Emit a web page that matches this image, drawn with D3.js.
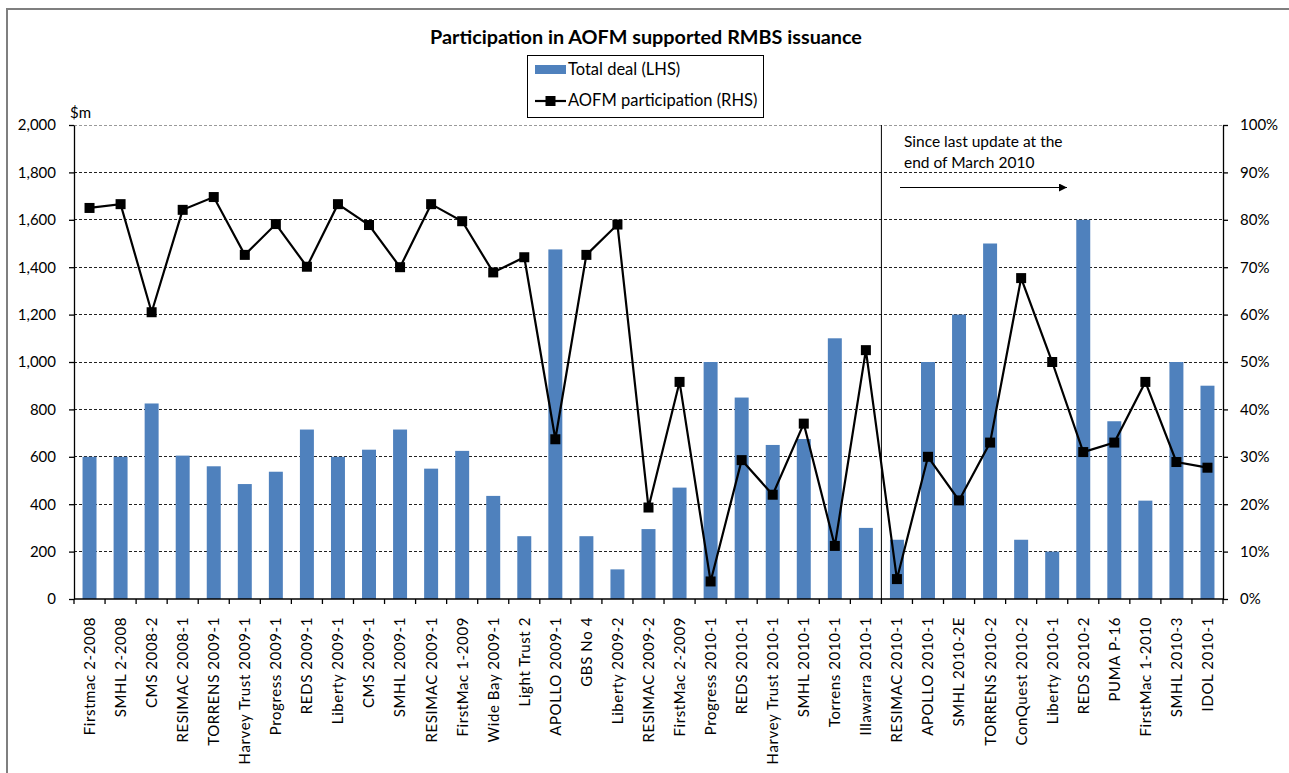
<!DOCTYPE html>
<html>
<head>
<meta charset="utf-8">
<script src="https://cdn.jsdelivr.net/npm/d3@7"></script>
<style>
	body { margin: 0; background: #fff; }
	svg { display: block; font-family: Lato, "Open Sans", sans-serif; }
</style>
</head>
<body>
<svg width="1289" height="773"></svg>
<script>
// deal names along the bottom
const deals = [
	"Firstmac 2-2008", "SMHL 2-2008", "CMS 2008-2", "RESIMAC 2008-1", "TORRENS 2009-1",
	"Harvey Trust 2009-1", "Progress 2009-1", "REDS 2009-1", "Liberty 2009-1", "CMS 2009-1",
	"SMHL 2009-1", "RESIMAC 2009-1", "FirstMac 1-2009", "Wide Bay 2009-1", "Light Trust 2",
	"APOLLO 2009-1", "GBS No 4", "Liberty 2009-2", "RESIMAC 2009-2", "FirstMac 2-2009",
	"Progress 2010-1", "REDS 2010-1", "Harvey Trust 2010-1", "SMHL 2010-1", "Torrens 2010-1",
	"Illawarra 2010-1", "RESIMAC 2010-1", "APOLLO 2010-1", "SMHL 2010-2E", "TORRENS 2010-2",
	"ConQuest 2010-2", "Liberty 2010-1", "REDS 2010-2", "PUMA P-16", "FirstMac 1-2010",
	"SMHL 2010-3", "IDOL 2010-1"
]

// total deal, $m (LHS)
const totalDeal = [
	600, 600, 825, 605, 560, 485, 537, 715, 600, 630,
	715, 550, 625, 435, 265, 1475, 265, 125, 295, 470,
	1000, 850, 650, 675, 1100, 300, 250, 1000, 1200, 1500,
	250, 200, 1600, 750, 415, 1000, 900
]

// AOFM participation, % (RHS)
const aofmShare = [
	82.5, 83.3, 60.5, 82.1, 84.8, 72.6, 79.1, 70.1, 83.3, 78.9,
	70.0, 83.3, 79.7, 68.9, 72.1, 33.7, 72.6, 79.0, 19.3, 45.8,
	3.7, 29.3, 22.0, 37.0, 11.2, 52.5, 4.2, 30.0, 20.8, 33.0,
	67.7, 50.0, 31.0, 33.0, 45.8, 28.9, 27.7
]

const leftTicks = [0, 200, 400, 600, 800, 1000, 1200, 1400, 1600, 1800, 2000]
const rightTicks = [0, 10, 20, 30, 40, 50, 60, 70, 80, 90, 100]

// first deal after the end of March 2010 update
const lastUpdateDeal = "RESIMAC 2010-1"

const svg = d3.select("svg")

const plotLeft = 74, plotRight = 1223, plotTop = 125, plotBottom = 599

const x = d3.scaleBand()
	.domain(deals)
	.range([plotLeft, plotRight])
	.paddingInner(0.55)
	.paddingOuter(0.275)

const yL = d3.scaleLinear().domain([0, 2000]).range([plotBottom, plotTop])
const yR = d3.scaleLinear().domain([0, 100]).range([plotBottom, plotTop])

// outer frame (left + top edges visible)
svg.append("path")
	.attr("d", "M7,773 V9 H1289")
	.attr("fill", "none")
	.attr("stroke", "#7f7f7f")
	.attr("stroke-width", 2)

// title
svg.append("text")
	.attr("x", 646)
	.attr("y", 44)
	.attr("text-anchor", "middle")
	.style("font-weight", "bold")
	.style("font-size", "19.8px")
	.text("Participation in AOFM supported RMBS issuance")

// gridlines
svg.append("g")
	.selectAll("line")
	.data(leftTicks.filter(d => d > 0))
	.enter()
	.append("line")
	.attr("x1", plotLeft)
	.attr("x2", plotRight)
	.attr("y1", d => yL(d))
	.attr("y2", d => yL(d))
	.attr("stroke", d => d === 2000 ? "#9a9a9a" : "#222")
	.attr("stroke-width", 1)
	.attr("stroke-dasharray", "3,2")
	.attr("shape-rendering", "crispEdges")

// bars
svg.append("g")
	.selectAll("rect")
	.data(totalDeal)
	.enter()
	.append("rect")
	.attr("x", (d, i) => x(deals[i]))
	.attr("width", x.bandwidth())
	.attr("y", d => yL(d))
	.attr("height", d => yL(0) - yL(d))
	.attr("fill", "#4f81bd")

// divider for the last update
const divX = x(lastUpdateDeal) - x.step() * x.paddingInner() / 2
svg.append("line")
	.attr("x1", divX).attr("x2", divX)
	.attr("y1", plotTop).attr("y2", plotBottom)
	.attr("stroke", "#000")
	.attr("stroke-width", 1)

// participation line
const cx = (d, i) => x(deals[i]) + x.bandwidth() / 2
const line = d3.line()
	.x(cx)
	.y(d => yR(d))

svg.append("path")
	.datum(aofmShare)
	.attr("d", line)
	.attr("fill", "none")
	.attr("stroke", "#000")
	.attr("stroke-width", 2.2)

svg.append("g")
	.selectAll("rect")
	.data(aofmShare)
	.enter()
	.append("rect")
	.attr("x", (d, i) => cx(d, i) - 5)
	.attr("y", d => yR(d) - 5)
	.attr("width", 10)
	.attr("height", 10)
	.attr("fill", "#000")

// axes
const axisStyle = g => {
	g.select(".domain").attr("stroke", "#000").attr("stroke-width", 1.3)
	g.selectAll(".tick line").attr("stroke", "#000").attr("stroke-width", 1.3)
	g.selectAll("text").style("font-family", "Lato, sans-serif").attr("fill", "#000")
}

svg.append("g")
	.attr("transform", `translate(${plotLeft},0)`)
	.call(d3.axisLeft(yL).tickValues(leftTicks).tickSize(5).tickSizeOuter(0).tickPadding(13)
		.tickFormat(d3.format(",")))
	.call(axisStyle)
	.selectAll("text").style("font-size", "15px")

svg.append("g")
	.attr("transform", `translate(${plotRight},0)`)
	.call(d3.axisRight(yR).tickValues(rightTicks).tickSize(5).tickSizeOuter(0).tickPadding(12)
		.tickFormat(d => d + "%"))
	.call(axisStyle)
	.selectAll("text").style("font-size", "15px")

// x axis with ticks on band edges
const xg = svg.append("g")
	.attr("transform", `translate(0,${plotBottom})`)
xg.append("line")
	.attr("x1", plotLeft).attr("x2", plotRight)
	.attr("stroke", "#000").attr("stroke-width", 1.3)
xg.selectAll("line.tk")
	.data(deals.concat(["end"]))
	.enter()
	.append("line")
	.attr("class", "tk")
	.attr("x1", (d, i) => plotLeft + i * x.step())
	.attr("x2", (d, i) => plotLeft + i * x.step())
	.attr("y1", 0).attr("y2", 5)
	.attr("stroke", "#000").attr("stroke-width", 1.3)
xg.selectAll("text")
	.data(deals)
	.enter()
	.append("text")
	.attr("transform", d => `translate(${x(d) + x.bandwidth() / 2},18) rotate(-90)`)
	.attr("dy", "0.36em")
	.attr("text-anchor", "end")
	.style("font-size", "15px")
	.style("letter-spacing", "0.6px")
	.text(d => d)

// unit label
svg.append("text")
	.attr("x", 70).attr("y", 118)
	.style("font-size", "15px")
	.text("$m")

// legend
const legend = svg.append("g")
legend.append("rect")
	.attr("x", 527.5).attr("y", 55.5)
	.attr("width", 236).attr("height", 62)
	.attr("fill", "#fff").attr("stroke", "#000")
legend.append("rect")
	.attr("x", 535).attr("y", 65).attr("width", 31).attr("height", 9)
	.attr("fill", "#4f81bd")
legend.append("text")
	.attr("x", 568).attr("y", 75)
	.style("font-size", "16.5px")
	.text("Total deal (LHS)")
legend.append("line")
	.attr("x1", 535).attr("x2", 566).attr("y1", 101).attr("y2", 101)
	.attr("stroke", "#000").attr("stroke-width", 2.2)
legend.append("rect")
	.attr("x", 545.5).attr("y", 96).attr("width", 10).attr("height", 10)
	.attr("fill", "#000")
legend.append("text")
	.attr("x", 568).attr("y", 106)
	.style("font-size", "16.5px")
	.text("AOFM participation (RHS)")

// annotation
const note = svg.append("text")
	.attr("x", 904).attr("y", 147)
	.style("font-size", "15.5px")
note.append("tspan").attr("x", 904).text("Since last update at the")
note.append("tspan").attr("x", 904).attr("dy", 21).text("end of March 2010")

svg.append("defs").append("marker")
	.attr("id", "arrow")
	.attr("viewBox", "0 0 10 10")
	.attr("refX", 10).attr("refY", 5)
	.attr("markerWidth", 8).attr("markerHeight", 8)
	.attr("markerUnits", "userSpaceOnUse")
	.attr("orient", "auto")
	.append("path")
	.attr("d", "M0,0 L10,5 L0,10 Z")
	.attr("fill", "#000")

svg.append("line")
	.attr("x1", 900).attr("x2", 1067)
	.attr("y1", 187.5).attr("y2", 187.5)
	.attr("stroke", "#000").attr("stroke-width", 1.2)
	.attr("marker-end", "url(#arrow)")
</script>
</body>
</html>
